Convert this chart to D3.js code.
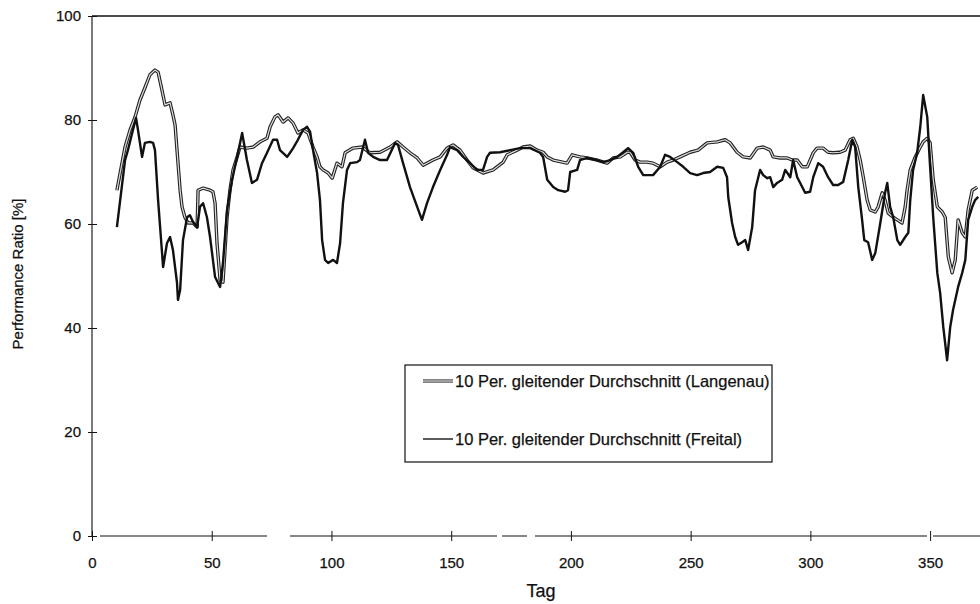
<!DOCTYPE html>
<html>
<head>
<meta charset="utf-8">
<script src="https://cdn.jsdelivr.net/npm/d3@7"></script>
<style>
  body { margin: 0; background: #fff; }
  text { font-family: "Liberation Sans", Arial, sans-serif; fill: #111; stroke: #111; stroke-width: 0.25px; }
</style>
</head>
<body>
<script>
// Performance Ratio, 10 Per. gleitender Durchschnitt
const langenauDays = [10.4,13.8,15.9,18,20,22.1,24.2,26.3,27.6,29.2,30.5,32.6,33.8,34.7,35.5,36.8,37.6,38.8,40.1,42.2,43.9,44.3,46.4,49.3,50.5,51.4,52.2,53.5,54.7,56.4,57.6,58.9,60.6,61.8,64.7,67.3,70.2,73.1,74.4,76.4,77.7,79.8,81.9,84,86,88.1,90.2,92.3,94,95.2,96.5,98.6,100.3,102.3,104.4,105.7,109,112.8,116.1,120.3,124.5,127.4,129.9,132.8,135.8,138.3,142.4,145.4,148.3,150.8,153.7,156.6,159.1,163.3,167.5,171.7,173.4,177.5,180,183,185.9,188.4,190.1,192.6,198.4,200.5,203.8,206.8,210.9,215.1,217.6,220.6,223.5,224.7,226.8,228.9,231.8,234.3,237.3,240.2,242.7,245.6,249.8,253.1,256.9,261.1,264.4,266.5,269.4,271.9,274.9,277.8,280.3,283.2,284.5,287.4,290.3,292.4,294.5,296.6,298.7,301.2,302.8,305.3,307.4,309.5,312.4,314.5,316.6,317.9,319.5,320.8,322.1,323.7,325,327.1,328.3,330,331.2,332.5,334.6,336.3,338.3,339.6,340.4,341.7,343.8,345.9,347.1,348.8,350,351.3,353,355.1,356.3,357.6,359.2,360.5,361.7,363.4,364.7,365.9,367.6,369.7];
const langenauValues = [66.5,74.8,78.1,80.6,83.8,86.2,88.7,89.6,89.2,85.8,82.9,83.3,81,79,74.2,66.5,63.3,61.3,60.2,60.2,59.4,66.5,66.9,66.5,66.2,64,56.3,49.2,48.8,61.3,66.5,70.4,72.9,74.8,74.6,74.8,75.8,76.5,78.7,80.6,81,79.6,80.4,79.4,77.5,78.1,77.5,74.8,72.9,71,70.4,69.8,68.8,71.7,71,73.7,74.6,74.8,73.7,73.8,74.8,75.8,74.8,73.7,72.7,71.3,72.3,72.9,74.6,75.2,74.2,72.3,70.8,69.8,70.4,71.9,73.3,74.2,74.8,75,74.2,73.8,72.9,72.3,71.7,73.3,72.9,72.7,72.3,71.7,72.7,72.9,73.8,73.8,72.3,71.9,71.9,71.7,71,71.9,72.3,72.9,73.8,74.2,75.6,75.8,76.2,75.6,73.8,72.9,72.7,74.6,74.8,74.2,72.9,72.7,72.7,72.3,72.3,71,71,73.7,74.6,74.6,73.8,73.7,73.8,74.2,76.2,76.5,74.8,72.3,69,64.6,62.7,62.3,63.3,66,64.6,62.1,61.3,60.8,60.2,63.3,66.5,70.4,72.9,74.8,75.8,76.5,75.6,68.5,63.3,62.3,61.3,53.7,50.6,53.1,60.8,58.3,57.5,62.7,66.5,67.1];

const freitalDays = [10.4,13.8,15,17.1,18.4,19.2,20.9,22.1,24.2,25.5,26.3,27.6,29.7,31.3,32.6,33.8,35.5,35.9,36.8,38,39.7,40.9,42.2,43.9,45.1,46.4,48,49.3,51.4,53.5,54.7,56.4,58.5,60.6,62.7,64.7,66.8,68.9,71,73.1,75.6,77.3,78.5,81.5,82.7,84,86,88.1,89.8,91.1,92.3,94,95.2,96.1,97.3,98.6,100.7,102.3,103.6,104.8,106.5,107.8,110.7,111.9,114,115.3,117.4,120.3,123.2,126.6,127.8,129.9,132.8,135.8,137.8,139.9,142.4,145.4,148.3,149.5,152.5,155,157.9,160.8,163.3,165,166.2,170.4,174.6,178.8,183,187.1,188.4,190.1,192.6,194.7,197.6,198.8,199.7,202.6,203.8,206.8,210.9,213.5,216.4,219.3,221.8,223.9,226,228.1,230.2,234.3,237.3,239.3,241.4,244.4,246.9,249.8,252.7,255.2,258.1,261.1,263.6,265.2,265.7,267.3,268.6,269.8,271.5,272.8,274,275.7,276.9,279,280.3,282,283.2,284.5,286.1,288.2,289.5,291.6,292.8,294.5,296.6,297.8,299.9,301.2,303.3,305.3,307.4,309.5,311.6,313.7,315.8,317.5,318.7,320,321.6,322.5,324.1,325.8,327.1,329.2,331.2,332.1,333.3,334.6,336.3,337.5,339.6,340.9,341.7,342.9,344.6,345.9,347.1,348.8,350,351.3,353,354.2,355.5,357.1,358.4,359.6,361.7,363.4,364.7,365.9,367.6,368.8,370.1];
const freitalValues = [59.4,72.3,74.2,78.1,80.4,78.1,72.9,75.6,75.8,75.6,74.2,64.6,51.7,56.3,57.5,55,48.7,45.4,47.3,56.9,61.3,61.7,60.4,59.4,63.3,64,61.3,57.5,49.8,47.9,52.5,62.7,68.5,72.9,77.5,72.3,67.9,68.5,71.7,73.7,76.2,76.2,74.2,72.9,73.7,74.6,76.2,78.1,78.7,77.7,74.2,69.8,64.6,56.9,53.1,52.5,53.1,52.5,56.3,64,70.4,71.7,71.9,72.3,76.2,73.7,72.9,72.3,72.3,75.6,75.2,71.7,67.1,63.3,60.8,64,67.1,70.4,73.3,74.8,74.2,72.9,71.7,70.4,70.4,72.9,73.7,73.8,74.2,74.6,74.6,73.7,72.9,68.5,67.1,66.5,66.2,66.5,70,70.4,72.3,72.7,72.3,71.9,72.3,72.9,73.8,74.6,73.7,71,69.4,69.4,71,73.3,72.9,71.9,71,69.8,69.4,69.8,70,71,70.8,69,65.2,60.2,57.5,56,56.5,56.9,55,59.4,66.5,70.4,69.4,68.8,69,67.1,67.9,68.5,70.4,69,72.3,69,67.1,66,66.2,69,71.7,71,69,67.5,67.5,68.1,72.3,76.2,74.8,67.1,60.8,56.9,56.5,53.1,54.4,60.2,66,67.9,63.3,61.3,56.9,56,57.5,58.3,64.6,70.4,73.7,78.7,84.8,80.6,71,61.3,50.6,46.7,40.2,33.8,40.2,43.5,47.9,50.6,53.1,60.8,63.3,64.6,65.2];

const xTicks = [0, 50, 100, 150, 200, 250, 300, 350];
const yTicks = [0, 20, 40, 60, 80, 100];
const legendLabels = ["10 Per. gleitender Durchschnitt (Langenau)", "10 Per. gleitender Durchschnitt (Freital)"];

const W = 980, H = 604;
const svg = d3.select('body').append('svg').attr('width', W).attr('height', H);

const x = d3.scaleLinear().domain([0, 370]).range([92, 978]);
const y = d3.scaleLinear().domain([0, 100]).range([536, 16]);

// frame: top border and y axis line
svg.append('line').attr('x1', 92).attr('x2', 980).attr('y1', y(100)).attr('y2', y(100))
   .style('stroke', '#111').style('stroke-width', 1.6);
svg.append('line').attr('x1', 92).attr('x2', 92).attr('y1', y(100)).attr('y2', y(0))
   .style('stroke', '#222').style('stroke-width', 1.2);

// x axis baseline, broken like the scan
svg.append('line').attr('x1', 100).attr('x2', 980).attr('y1', y(0)).attr('y2', y(0))
   .style('stroke', '#111').style('stroke-width', 1.2)
   .style('stroke-dasharray', '167 23 207 5 25 8 392 6 60');

const xAxis = svg.append('g').attr('transform', `translate(0,${y(0)})`)
   .call(d3.axisBottom(x).tickValues(xTicks).tickSize(5).tickPadding(16));
xAxis.select('.domain').remove();
xAxis.selectAll('.tick line').attr('y1', -5).attr('y2', 5).style('stroke', '#111');
xAxis.selectAll('.tick text').style('font-size', '15px').style('font-family', '"Liberation Sans", Arial, sans-serif').attr('fill', '#111');

const yAxis = svg.append('g').attr('transform', 'translate(92,0)')
   .call(d3.axisLeft(y).tickValues(yTicks).tickSize(4).tickPadding(7));
yAxis.select('.domain').remove();
yAxis.selectAll('.tick line').attr('x1', -4).attr('x2', 5).style('stroke', '#111');
yAxis.selectAll('.tick text').style('font-size', '15px').style('font-family', '"Liberation Sans", Arial, sans-serif').attr('fill', '#111');

svg.append('text').attr('x', 541).attr('y', 597).attr('text-anchor', 'middle')
   .style('font-size', '18px').text('Tag');
svg.append('text').attr('transform', 'translate(23,274) rotate(-90)').attr('text-anchor', 'middle')
   .style('font-size', '15px').text('Performance Ratio [%]');

const clip = svg.append('clipPath').attr('id', 'plot').append('rect')
   .attr('x', 92).attr('y', 0).attr('width', 888).attr('height', 560);

const line = d3.line().x(d => x(d[0])).y(d => y(d[1]));
const langenau = langenauDays.map((d, i) => [d, langenauValues[i]]);
const freital = freitalDays.map((d, i) => [d, freitalValues[i]]);

const plot = svg.append('g').attr('clip-path', 'url(#plot)');
// Langenau: hollow double line
plot.append('path').datum(langenau).attr('d', line)
   .style('fill', 'none').style('stroke', '#222').style('stroke-width', 3.4).style('stroke-linejoin', 'round');
plot.append('path').datum(langenau).attr('d', line)
   .style('fill', 'none').style('stroke', '#ddd').style('stroke-width', 1.2).style('stroke-linejoin', 'round');
// Freital: solid black
plot.append('path').datum(freital).attr('d', line)
   .style('fill', 'none').style('stroke', '#111').style('stroke-width', 2.4).style('stroke-linejoin', 'round');

// legend
const legend = svg.append('g');
legend.append('rect').attr('x', 405).attr('y', 365).attr('width', 367).attr('height', 97)
   .style('fill', '#fff').style('stroke', '#111').style('stroke-width', 1.2);
legend.append('line').attr('x1', 423).attr('x2', 453).attr('y1', 381).attr('y2', 381)
   .style('stroke', '#333').style('stroke-width', 3.2);
legend.append('line').attr('x1', 423).attr('x2', 453).attr('y1', 381).attr('y2', 381)
   .style('stroke', '#e6e6e6').style('stroke-width', 1.2);
legend.append('line').attr('x1', 423).attr('x2', 453).attr('y1', 439).attr('y2', 439)
   .style('stroke', '#333').style('stroke-width', 1.6);
legend.selectAll('text.lab').data(legendLabels).enter().append('text')
   .attr('class', 'lab').attr('x', 455).attr('y', (d, i) => i === 0 ? 387 : 445)
   .style('font-size', '16.5px').text(d => d);
</script>
</body>
</html>
